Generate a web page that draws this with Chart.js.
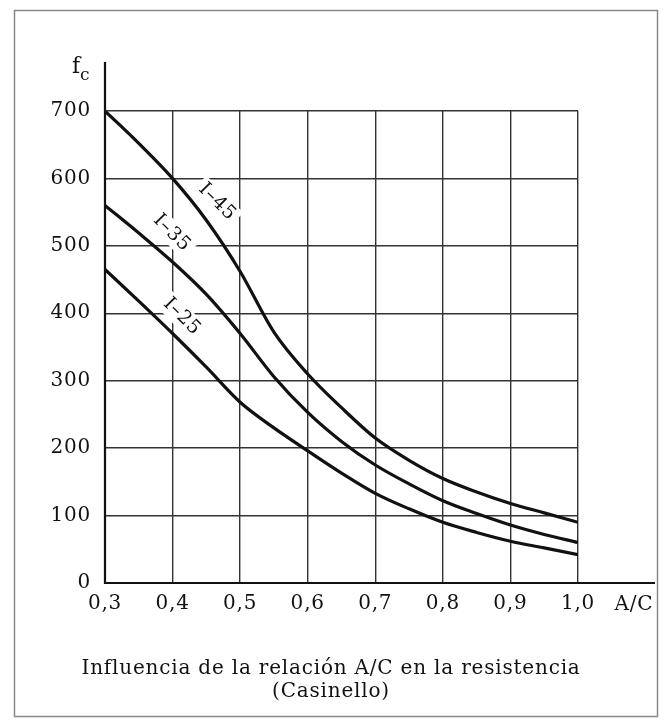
<!DOCTYPE html>
<html>
<head>
<meta charset="utf-8">
<script src="https://cdn.jsdelivr.net/npm/chart.js@4/dist/chart.umd.min.js"></script>
<style>
  html, body { margin: 0; padding: 0; background: #fff; }
  #wrap { width: 664px; height: 722px; }
</style>
</head>
<body>
<div id="wrap"><canvas id="chart"></canvas></div>
<script>
// relación agua/cemento (A/C)
const ratios = [0.3, 0.35, 0.4, 0.45, 0.5, 0.55, 0.6, 0.65, 0.7, 0.75, 0.8, 0.85, 0.9, 0.95, 1.0];

// resistencia f_c por tipo de cemento
const fcI45 = [700, 652, 600, 538, 462, 372, 310, 260, 215, 182, 155, 135, 118, 104, 90];
const fcI35 = [560, 519, 476, 428, 370, 306, 253, 210, 175, 147, 122, 103, 86, 72, 60];
const fcI25 = [465, 418, 370, 320, 268, 230, 196, 163, 133, 110, 90, 75, 62, 52, 42];

const seriesNames = ['I–45', 'I–35', 'I–25'];
// where each curve name sits (data coords) and its tilt
const labelAt = [
    { x: 0.466, y: 565, angle: 45 },
    { x: 0.399, y: 519, angle: 45 },
    { x: 0.414, y: 395, angle: 45 }
];

const xTicks = [0.3, 0.4, 0.5, 0.6, 0.7, 0.8, 0.9, 1.0];
const yTicks = [0, 100, 200, 300, 400, 500, 600, 700];

const FONT = '"DejaVu Serif", serif';
const INK = '#111';

function toPoints(values) {
    return ratios.map((r, i) => ({ x: r, y: values[i] }));
}

const extras = {
    id: 'extras',
    beforeDraw(chart) {
        // the original lettering is loosely spaced
        chart.ctx.letterSpacing = '0.8px';
    },
    beforeDatasetsDraw(chart) {
        const { ctx, scales: { x, y } } = chart;
        ctx.save();
        ctx.font = '19px ' + FONT;
        ctx.textAlign = 'center';
        ctx.textBaseline = 'middle';
        labelAt.forEach((l, i) => {
            const px = x.getPixelForValue(l.x);
            const py = y.getPixelForValue(l.y);
            ctx.save();
            ctx.translate(px, py);
            ctx.rotate(l.angle * Math.PI / 180);
            const w = ctx.measureText(seriesNames[i]).width;
            ctx.fillStyle = '#fff';
            ctx.fillRect(-w / 2 - 4, -11, w + 8, 22);
            ctx.fillStyle = INK;
            ctx.fillText(seriesNames[i], 0, 0);
            ctx.restore();
        });
        ctx.restore();
    },
    afterDraw(chart) {
        const { ctx, chartArea: a } = chart;
        ctx.save();
        // outer frame
        ctx.strokeStyle = '#888';
        ctx.lineWidth = 1.5;
        ctx.strokeRect(14.5, 10.5, 643, 706);

        // axis lines, extended past the grid
        ctx.strokeStyle = INK;
        ctx.lineWidth = 2.2;
        ctx.beginPath();
        ctx.moveTo(a.left, 62);
        ctx.lineTo(a.left, a.bottom);
        ctx.lineTo(655, a.bottom);
        ctx.stroke();

        ctx.fillStyle = INK;
        ctx.textBaseline = 'alphabetic';
        ctx.textAlign = 'left';
        ctx.font = '22px ' + FONT;
        ctx.fillText('f', 72, 73);
        ctx.font = '17px ' + FONT;
        ctx.fillText('c', 80, 80);

        ctx.font = '20px ' + FONT;
        ctx.textAlign = 'center';
        ctx.textBaseline = 'middle';
        ctx.fillText('A/C', 634, 605);

        ctx.fillText('Influencia de la relación A/C en la resistencia', 331, 669);
        ctx.fillText('(Casinello)', 331, 692);
        ctx.restore();
    }
};

const lineStyle = {
    borderColor: INK,
    borderWidth: 3.2,
    pointRadius: 0,
    fill: false,
    cubicInterpolationMode: 'monotone'
};

new Chart(document.getElementById('chart'), {
    type: 'line',
    data: {
        datasets: [
            { label: seriesNames[0], data: toPoints(fcI45), ...lineStyle },
            { label: seriesNames[1], data: toPoints(fcI35), ...lineStyle },
            { label: seriesNames[2], data: toPoints(fcI25), ...lineStyle }
        ]
    },
    options: {
        responsive: true,
        maintainAspectRatio: false,
        animation: false,
        layout: { padding: { left: 0, right: 86, top: 111, bottom: 0 } },
        plugins: {
            legend: { display: false },
            tooltip: { enabled: false }
        },
        scales: {
            x: {
                type: 'linear',
                min: 0.3,
                max: 1.0,
                afterBuildTicks: s => { s.ticks = xTicks.map(v => ({ value: v })); },
                afterFit: s => { s.height = 139; },
                border: { display: false },
                grid: { color: '#333', lineWidth: 1.4, drawTicks: false },
                ticks: {
                    padding: 9,
                    color: INK,
                    font: { family: FONT, size: 20 },
                    callback: v => v.toFixed(1).replace('.', ',')
                }
            },
            y: {
                min: 0,
                max: 700,
                afterBuildTicks: s => { s.ticks = yTicks.map(v => ({ value: v })); },
                afterFit: s => { s.width = 105; },
                border: { display: false },
                grid: { color: '#333', lineWidth: 1.4, drawTicks: false },
                ticks: {
                    padding: 14,
                    color: INK,
                    font: { family: FONT, size: 20 }
                }
            }
        }
    },
    plugins: [extras]
});
</script>
</body>
</html>
